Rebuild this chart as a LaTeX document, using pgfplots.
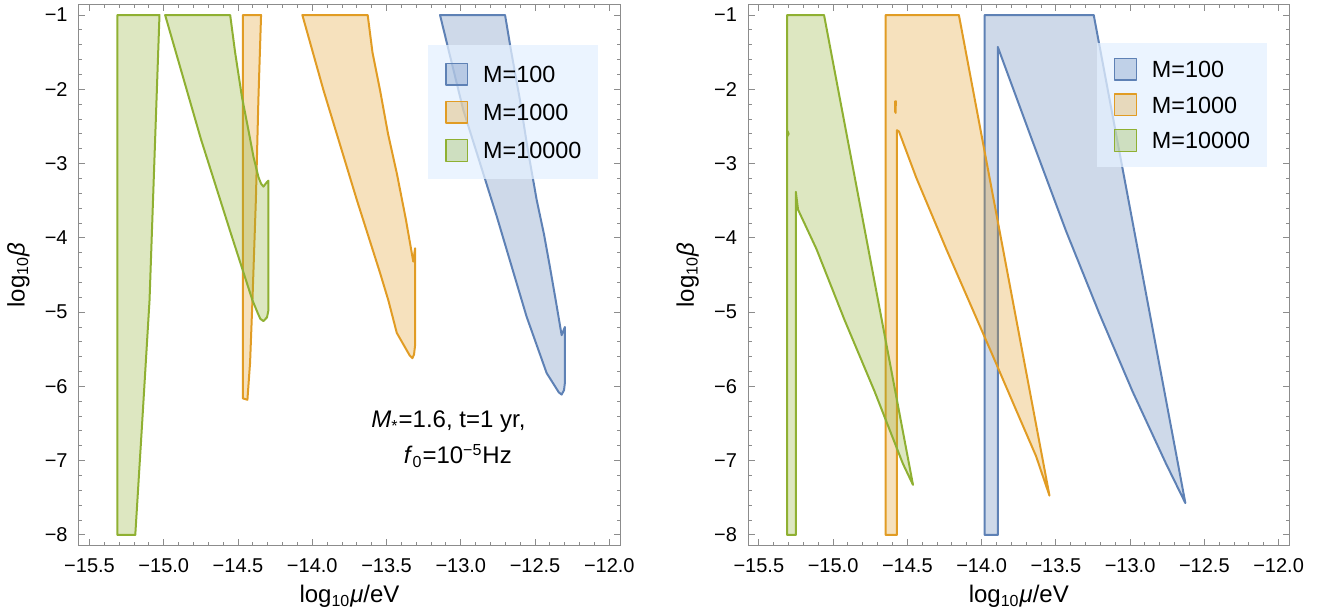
\documentclass[border=0pt]{standalone}
\usepackage{fontspec}
\setmainfont{Liberation Sans}
\usepackage{pgfplots}
\pgfplotsset{compat=1.18}
\definecolor{mblue}{RGB}{94,129,181}
\definecolor{morange}{RGB}{225,156,36}
\definecolor{mgreen}{RGB}{143,176,50}
\definecolor{axgray}{RGB}{140,140,140}
\definecolor{legbg}{RGB}{228,240,255}
\tikzset{reg/.style={draw=#1, fill=#1, fill opacity=0.3, draw opacity=1, line width=1pt, line join=round}}
\pgfplotsset{
 panel/.style={
  scale only axis, width=270.5pt, height=270.5pt, clip=false,
  xmin=-15.571, xmax=-11.928, ymin=-8.144, ymax=-0.861,
  xtick={-15.5,-15,-14.5,-14,-13.5,-13,-12.5,-12},
  xticklabels={−15.5,−15.0,−14.5,−14.0,−13.5,−13.0,−12.5,−12.0},
  ytick={-8,-7,-6,-5,-4,-3,-2,-1},
  yticklabels={−8,−7,−6,−5,−4,−3,−2,−1},
  minor x tick num=4, minor y tick num=4,
  tick align=inside, tick pos=both,
  major tick length=3.15pt, minor tick length=1.65pt,
  axis line style={draw=axgray, line width=0.5pt},
  tick style={draw=axgray, line width=0.5pt},
  tick label style={font=\fontsize{10}{12}\selectfont},
  xticklabel style={inner sep=0pt, anchor=north, yshift=-6.3pt},
  yticklabel style={inner sep=0pt, anchor=east, xshift=-5.5pt},
  legend image code/.code={\draw[#1, line width=0.7pt] (0pt,-5.4pt) rectangle (10.8pt,5.4pt);},
  legend cell align=left,
 }
}
\begin{document}
\begin{tikzpicture}
\path[use as bounding box] (0,0) rectangle (665pt,305pt);
% ---------------- left panel
\begin{axis}[panel, at={(39.5pt,32.15pt)}, anchor=south west,
  legend style={at={(rel axis cs:0.645,0.9255)}, anchor=north west, draw=none, fill=legbg, fill opacity=0.75, text opacity=1,
   inner xsep=8.4pt, inner ysep=8.6pt, row sep=7.6pt, column sep=7.5pt,
   nodes={inner sep=0pt, text height=8.4pt, text depth=0pt, font=\fontsize{11.7}{14}\selectfont}}]
\addplot[reg=mblue] coordinates {
(-13.140,-1) (-12.702,-1) (-12.66,-1.5) (-12.602,-2.14) (-12.55,-2.8) (-12.489,-3.49) (-12.44,-3.95) (-12.400,-4.39) (-12.36,-4.85) (-12.321,-5.31) (-12.299,-5.20) (-12.299,-5.95) (-12.305,-6.05) (-12.321,-6.11) (-12.34,-6.08) (-12.422,-5.82) (-12.557,-5.06) (-12.758,-3.71) (-12.983,-2.28)
} -- cycle;
\addlegendentry{M=100}
\addplot[reg=morange] coordinates {
(-14.067,-1) (-13.627,-1) (-13.595,-1.5) (-13.544,-2.01) (-13.49,-2.6) (-13.431,-3.13) (-13.37,-3.75) (-13.335,-4.15) (-13.320,-4.32) (-13.308,-4.14) (-13.308,-5.45) (-13.315,-5.57) (-13.326,-5.62) (-13.345,-5.58) (-13.431,-5.28) (-13.488,-4.84) (-13.544,-4.47) (-13.700,-3.49) (-13.925,-2.01)
} -- cycle;
\addlegendentry{M=1000}
\addplot[reg=mgreen] coordinates {
(-15.312,-1) (-15.029,-1) (-15.064,-3.0) (-15.096,-4.84) (-15.146,-6.5) (-15.192,-8.0) (-15.312,-8.0)
} -- cycle;
\addlegendentry{M=10000}
\addplot[reg=morange, forget plot] coordinates {
(-14.468,-1) (-14.345,-1) (-14.363,-2.14) (-14.380,-3.49) (-14.403,-4.84) (-14.419,-5.68) (-14.437,-6.18) (-14.468,-6.16)
} -- cycle;
\addplot[reg=mgreen, forget plot] coordinates {
(-14.991,-1) (-14.553,-1) (-14.52,-1.5) (-14.474,-2.10) (-14.43,-2.55) (-14.396,-2.91) (-14.363,-3.18) (-14.345,-3.27) (-14.329,-3.31) (-14.31,-3.26) (-14.295,-3.23) (-14.295,-4.97) (-14.305,-5.07) (-14.329,-5.12) (-14.35,-5.09) (-14.37,-5.0) (-14.403,-4.84) (-14.55,-3.93) (-14.75,-2.67)
} -- cycle;
\node[anchor=base, inner sep=0pt, font=\fontsize{12}{14}\selectfont] at (axis cs:-13.083,-6.558) {\textit{M}\textsubscript{*}=1.6, t=1 yr,};
\node[anchor=base, inner sep=0pt, font=\fontsize{12}{14}\selectfont] at (axis cs:-13.02,-7.043) {\textit{f}\textsubscript{0}=10\textsuperscript{−5}Hz};
\node[anchor=north, inner sep=0pt, yshift=-19.5pt, font=\fontsize{12}{14}\selectfont] at (rel axis cs:0.5,0) {log\textsubscript{10}\textit{μ}/eV};
\node[xshift=-24.5pt, rotate=90, anchor=south, inner sep=0pt, font=\fontsize{12}{14}\selectfont] at (rel axis cs:0,0.5) {log\textsubscript{10}\textit{β}};
\end{axis}
% ---------------- right panel
\begin{axis}[panel, at={(374.15pt,32.15pt)}, anchor=south west,
  legend style={at={(rel axis cs:0.644,0.9305)}, anchor=north west, draw=none, fill=legbg, fill opacity=0.75, text opacity=1,
   inner xsep=8.4pt, inner ysep=7.6pt, row sep=6.3pt, column sep=7.5pt,
   nodes={inner sep=0pt, text height=8.4pt, text depth=0pt, font=\fontsize{11.7}{14}\selectfont}}]
\addplot[reg=mblue] coordinates {
(-13.980,-1) (-13.980,-8) (-13.891,-8) (-13.891,-1.43) (-13.655,-2.71) (-13.431,-3.91) (-13.207,-5.02) (-12.983,-6.07) (-12.758,-7.04) (-12.628,-7.57) (-13.245,-1)
} -- cycle;
\addlegendentry{M=100}
\addplot[reg=morange] coordinates {
(-14.646,-1) (-14.646,-8) (-14.570,-8) (-14.570,-2.55) (-14.556,-2.57) (-14.440,-3.19) (-14.238,-4.15) (-14.059,-4.97) (-13.924,-5.59) (-13.767,-6.32) (-13.633,-6.94) (-13.543,-7.47) (-14.153,-1)
} -- cycle;
\addlegendentry{M=1000}
\addplot[reg=mgreen] coordinates {
(-15.310,-1) (-15.310,-8) (-15.251,-8) (-15.251,-3.38) (-15.236,-3.62) (-15.112,-4.15) (-14.922,-5.11) (-14.720,-6.07) (-14.530,-7.04) (-14.462,-7.325) (-15.061,-1)
} -- cycle;
\addlegendentry{M=10000}
\addplot[reg=morange, forget plot, line width=0.8pt] coordinates {
(-14.584,-2.16) (-14.576,-2.16) (-14.578,-2.32) (-14.584,-2.30)
} -- cycle;
\addplot[reg=mgreen, forget plot, line width=0.8pt] coordinates {
(-15.306,-2.56) (-15.298,-2.60) (-15.306,-2.63)
} -- cycle;
\node[anchor=north, inner sep=0pt, yshift=-19.5pt, font=\fontsize{12}{14}\selectfont] at (rel axis cs:0.5,0) {log\textsubscript{10}\textit{μ}/eV};
\node[xshift=-24.5pt, rotate=90, anchor=south, inner sep=0pt, font=\fontsize{12}{14}\selectfont] at (rel axis cs:0,0.5) {log\textsubscript{10}\textit{β}};
\end{axis}
\end{tikzpicture}
\end{document}
